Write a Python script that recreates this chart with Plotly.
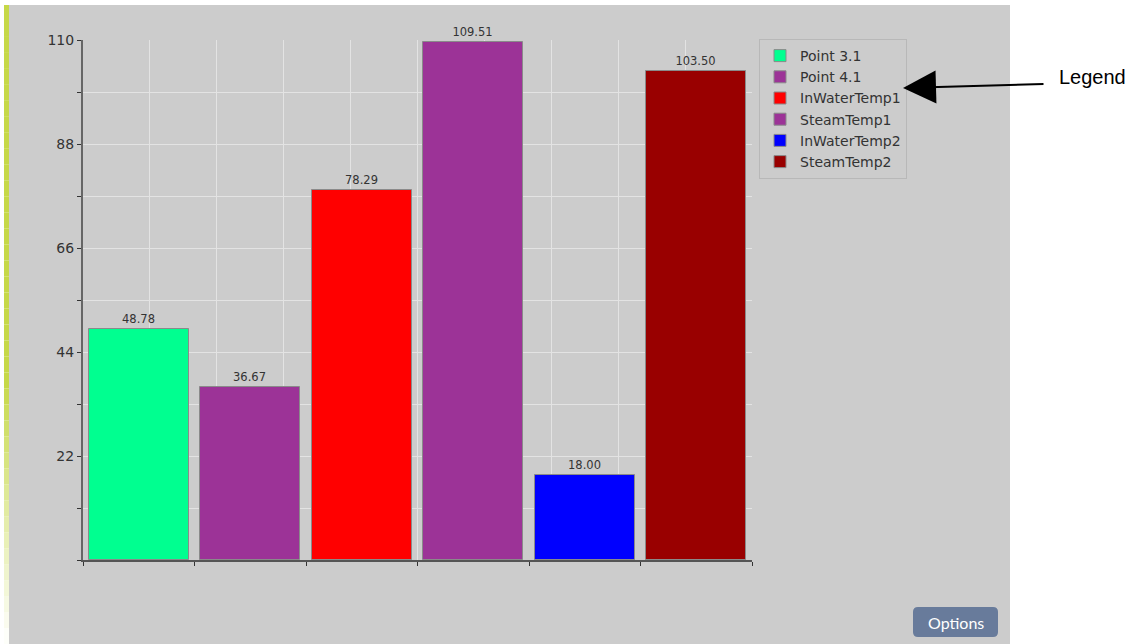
import plotly.graph_objects as go

# ---- data ----
names = ["Point 3.1", "Point 4.1", "InWaterTemp1", "SteamTemp1", "InWaterTemp2", "SteamTemp2"]
values = [48.78, 36.67, 78.29, 109.51, 18.00, 103.50]
colors = ["#00ff90", "#9c3397", "#ff0000", "#9c3397", "#0000ff", "#990000"]
y_tick_vals = [0, 11, 22, 33, 44, 55, 66, 77, 88, 99, 110]
y_tick_text = ["", "", "22", "", "44", "", "66", "", "88", "", "110"]

W, H = 1137, 644
L, R, T, B = 83, 752, 40, 560  # plot area pixels


def px(x):
    return (x - L) / (R - L)


def py(y):
    return (B - y) / (B - T)


fig = go.Figure()
for i, (n, v, c) in enumerate(zip(names, values, colors)):
    fig.add_trace(go.Bar(
        x=[i + 0.5], y=[v], name=n, width=0.9,
        marker=dict(color=c, line=dict(color="#8a8a8a", width=1)),
        texttemplate="%{y:.2f}", textposition="outside",
        textfont=dict(family="DejaVu Sans", size=11.5, color="#333333"),
        cliponaxis=False,
    ))
# helper invisible trace for vertical grid axis
fig.add_trace(go.Scatter(x=[0], y=[0], xaxis="x2", mode="markers",
                         marker=dict(opacity=0), showlegend=False, hoverinfo="skip"))

shapes = []
# grey panel
shapes.append(dict(type="rect", xref="paper", yref="paper", layer="below",
                   x0=px(9), x1=px(1010), y0=py(5), y1=py(650),
                   fillcolor="#cccccc", line=dict(width=0)))
# left yellow-green strip with fade
top_c = (0xc6, 0xd8, 0x48)
n_seg = 40
y_start, y_end = 5, 644
for k in range(n_seg):
    ya = y_start + (y_end - y_start) * k / n_seg
    yb = y_start + (y_end - y_start) * (k + 1) / n_seg
    mid = (ya + yb) / 2
    if mid < 380:
        f = 0.0
    else:
        f = min(1.0, (mid - 380) / (644 - 380))
    col = tuple(int(round(tc + (255 - tc) * f)) for tc in top_c)
    shapes.append(dict(type="rect", xref="paper", yref="paper", layer="below",
                       x0=px(4), x1=px(9), y0=py(ya), y1=py(yb),
                       fillcolor="rgb(%d,%d,%d)" % col, line=dict(width=0)))

# Options button (rounded rectangle)
bx0, bx1, by0, by1, r = 913, 998, 607, 637, 5
path = (
    f"M {px(bx0 + r)},{py(by0)} L {px(bx1 - r)},{py(by0)} "
    f"Q {px(bx1)},{py(by0)} {px(bx1)},{py(by0 + r)} "
    f"L {px(bx1)},{py(by1 - r)} Q {px(bx1)},{py(by1)} {px(bx1 - r)},{py(by1)} "
    f"L {px(bx0 + r)},{py(by1)} Q {px(bx0)},{py(by1)} {px(bx0)},{py(by1 - r)} "
    f"L {px(bx0)},{py(by0 + r)} Q {px(bx0)},{py(by0)} {px(bx0 + r)},{py(by0)} Z"
)
shapes.append(dict(type="path", xref="paper", yref="paper", path=path,
                   fillcolor="#687b9b", line=dict(width=0)))

annotations = [
    dict(xref="paper", yref="paper", x=px(955.5), y=py(622), text="Options",
         showarrow=False, font=dict(family="Lato", size=16, color="white"),
         xanchor="center", yanchor="middle"),
    dict(xref="paper", yref="paper", x=px(1057), y=py(77), text="Legend",
         showarrow=False, font=dict(family="Liberation Sans", size=20, color="black"),
         xanchor="left", yanchor="middle"),
    dict(xref="paper", yref="paper", x=px(903), y=py(88), text="",
         showarrow=True, ax=142, ay=-4, arrowhead=2, arrowsize=3.3,
         arrowwidth=2, arrowcolor="black"),
]

fig.update_layout(
    width=W, height=H,
    margin=dict(l=L, r=W - R, t=T, b=H - B, autoexpand=False),
    paper_bgcolor="white",
    plot_bgcolor="rgba(0,0,0,0)",
    barmode="overlay",
    bargap=0,
    shapes=shapes,
    annotations=annotations,
    xaxis=dict(range=[0, 6], tickvals=[0, 1, 2, 3, 4, 5, 6], ticks="outside",
               ticklen=4, tickcolor="#333333", showticklabels=False,
               showgrid=False, zeroline=False, showline=True,
               linecolor="#555555", linewidth=2, fixedrange=True),
    xaxis2=dict(range=[0, 10], dtick=1, overlaying="x", showgrid=True,
                gridcolor="#e3e3e3", gridwidth=1, showticklabels=False,
                ticks="", zeroline=False, showline=False, fixedrange=True),
    yaxis=dict(range=[0, 110], tickvals=y_tick_vals, ticktext=y_tick_text,
               ticks="outside", ticklen=4, tickcolor="#333333",
               tickfont=dict(family="DejaVu Sans", size=14, color="#333333"),
               showgrid=True, gridcolor="#e3e3e3", gridwidth=1,
               zeroline=False, showline=True, linecolor="#666666", linewidth=2,
               fixedrange=True),
    legend=dict(x=px(759), y=py(39), xanchor="left", yanchor="top",
                bgcolor="#cccccc", bordercolor="#b8b8b8", borderwidth=1,
                font=dict(family="DejaVu Sans", size=14, color="#333333"),
                tracegroupgap=0, itemwidth=30),
    showlegend=True,
)

fig.write_html("out.html", config={"displayModeBar": False},
               post_script="document.body.style.margin='0px';")
